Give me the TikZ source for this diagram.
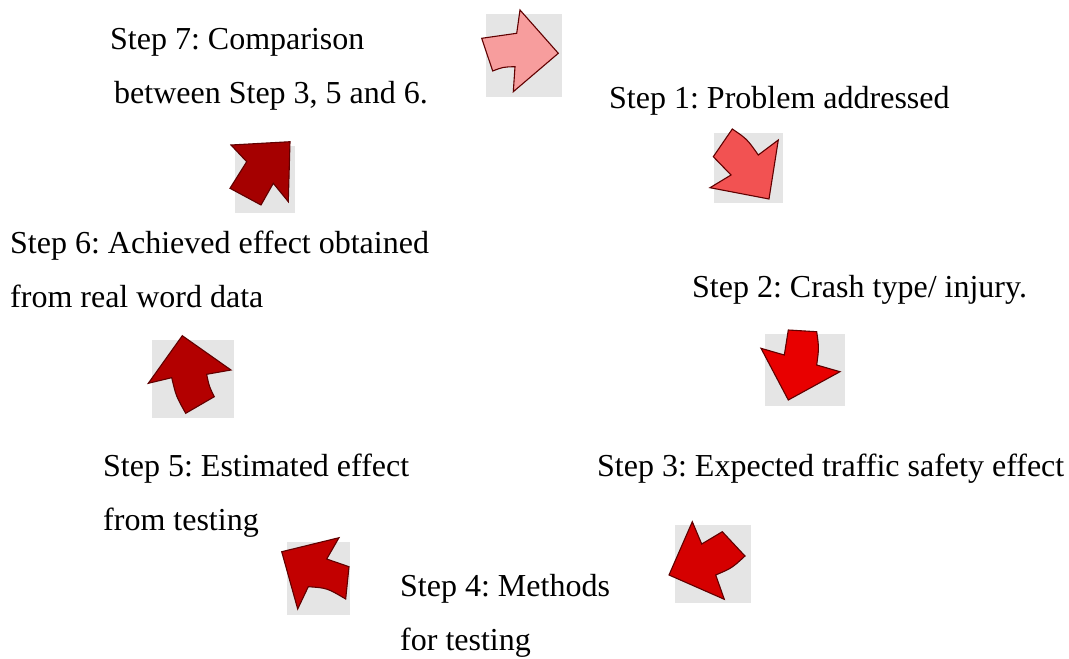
\documentclass[tikz,border=0pt]{standalone}
\usepackage{fontspec}
\setmainfont{Liberation Serif}
\definecolor{boxgray}{RGB}{229,229,229}
\definecolor{edge}{RGB}{96,0,0}
\definecolor{c1}{RGB}{247,157,157}
\definecolor{c2}{RGB}{242,82,82}
\definecolor{c3}{RGB}{232,0,0}
\definecolor{c4}{RGB}{213,0,0}
\definecolor{c5}{RGB}{194,0,0}
\definecolor{c6}{RGB}{179,0,0}
\definecolor{c7}{RGB}{165,0,0}
\tikzset{
  steptext/.style={anchor=base west, inner sep=0pt, align=left, font=\fontsize{32}{53.8}\selectfont\frenchspacing},
  grayback/.style={fill=boxgray, draw=none},
  arrowshape/.style={draw=edge, line width=1.1pt, line join=miter}
}
\begin{document}
\begin{tikzpicture}[x=1pt,y=-1pt]
\useasboundingbox (0,0) rectangle (1069,659);
% gray backgrounds
\fill[grayback] (486,14) rectangle (562,97);
\fill[grayback] (714,133) rectangle (783,203);
\fill[grayback] (765,334) rectangle (845,406);
\fill[grayback] (675,525) rectangle (751,603);
\fill[grayback] (287,542) rectangle (350,615);
\fill[grayback] (152,340) rectangle (234,418);
\fill[grayback] (235,146) rectangle (295,213);
% arrows
\draw[arrowshape, fill=c1] (481.7,38.3) .. controls (499,35) .. (516.7,33.3) -- (520,10) -- (558.3,53.3) -- (513.3,91.7) -- (515,66.7) .. controls (503,67) .. (492.7,71) -- cycle;
\draw[arrowshape, fill=c2] (732.3,129) .. controls (747,139) .. (758.3,155) -- (778.3,140) -- (769,199) -- (710,187.7) -- (731,175) -- (713.3,156.7) -- cycle;
\draw[arrowshape, fill=c3] (788.3,330) -- (816.7,331.7) .. controls (819,348) .. (816.7,365) -- (840,371.7) -- (788.3,400) -- (761,348.3) -- (784.3,355) .. controls (785.5,342) .. (788.3,330) -- cycle;
\draw[arrowshape, fill=c4] (692.3,521.7) -- (701.7,544) -- (722.3,531.7) -- (745,556) .. controls (732,568) .. (715.7,575) -- (724.3,599.3) -- (669,575) -- cycle;
\draw[arrowshape, fill=c5] (281.7,551.7) -- (339,537.7) -- (326.7,559) -- (349,566.7) -- (345.7,599) .. controls (327,588) .. (308.3,586.7) -- (297.7,609) -- cycle;
\draw[arrowshape, fill=c6] (182.3,335.7) -- (231,370) -- (206.7,374.3) .. controls (209,386) .. (214.3,396.7) -- (185.7,413.3) .. controls (176,396) .. (171.7,377.7) -- (148.3,383.3) -- cycle;
\draw[arrowshape, fill=c7] (290,141.7) -- (288.3,201.7) -- (273.3,183.3) -- (261,205) -- (230,188.3) -- (246.7,161.7) -- (231,145) -- cycle;
% texts (anchored at the baseline of the last line)
\node[steptext] (s7) at (110,103.3) {Step 7: Comparison\\\hspace*{4pt}between Step 3, 5 and 6.};
\node[steptext] (s1) at (609,108) {Step 1: Problem addressed};
\node[steptext] (s2) at (692,297) {Step 2: Crash type/ injury.};
\node[steptext] (s3) at (597,476) {Step 3: Expected traffic safety effect};
\node[steptext] (s4) at (400,650) {Step 4: Methods\\for testing};
\node[steptext] (s5) at (103,530) {Step 5: Estimated effect\\from testing};
\node[steptext] (s6) at (10,307.5) {Step 6: Achieved effect obtained\\from real word data};
\end{tikzpicture}
\end{document}
